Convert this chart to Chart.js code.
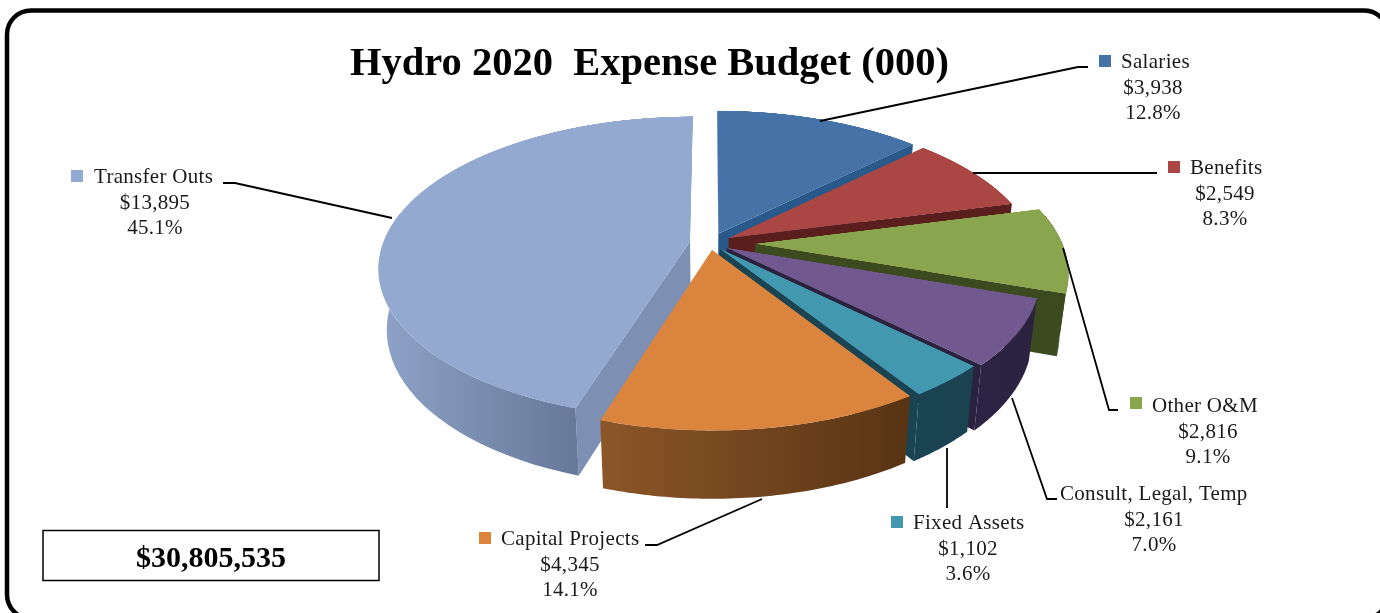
<!DOCTYPE html>
<html>
<head>
<meta charset="utf-8">
<script src="https://cdn.jsdelivr.net/npm/chart.js@4"></script>
<style>
  html, body { margin: 0; padding: 0; background: #fff; overflow: hidden; }
  #wrap { width: 1380px; height: 613px; }
</style>
</head>
<body>
<div id="wrap"><canvas id="pie" width="1380" height="613"></canvas></div>
<script>
const categories = ['Salaries', 'Benefits', 'Other O&M', 'Consult, Legal, Temp', 'Fixed Assets', 'Capital Projects', 'Transfer Outs'];
const budget = [3938, 2549, 2816, 2161, 1102, 4345, 13895];
const amountLabels = ['$3,938', '$2,549', '$2,816', '$2,161', '$1,102', '$4,345', '$13,895'];
const percentLabels = ['12.8%', '8.3%', '9.1%', '7.0%', '3.6%', '14.1%', '45.1%'];
const chartTitle = 'Hydro 2020  Expense Budget (000)';
const totalLabel = '$30,805,535';

const topColors = ['#4572A7', '#AA4643', '#89A54E', '#71588F', '#4198AF', '#DB843D', '#93A9CF'];
// wall gradient left -> right, and the flat colour of the cut faces
const wallLeft = ['#2a5a8a', '#5f2220', '#3f4e20', '#2d2344', '#1b4453', '#8c5628', '#8ea3c8'];
const wallRight = ['#2a5a8a', '#5f2220', '#3a481d', '#2b2240', '#1a4250', '#583414', '#67799a'];
const cutColors = ['#28598a', '#5a1f1c', '#3c4a1f', '#2b2240', '#1a4452', '#7a4a20', '#7d90b3'];
// how far each slice is pulled out of the pie, px on the flat chart
const sliceOffsets = [17.2, 17.2, 36.2, 15.5, 12.3, 11.6, 16.2];

// perspective of the pie plane: rows stay rows, only the width changes with depth
const PX = 710, PY = 243, A = 307, B = 147, K = 0.171;
const DEPTH = 60, BOTTOM_SHRINK = 0.025, SS = 2;

// [key x, key y, name x, centre x, first baseline]
const labelPos = [
  [1099, 55, 1121, 1153, 68],
  [1168, 161, 1190, 1225, 174],
  [1130, 397, 1152, 1208, 412],
  [null, null, 1060, 1154, 500],
  [891, 516, 913, 968, 529],
  [479, 532, 501, 570, 545],
  [71, 170, 94, 155, 183],
];
const leaders = [
  [[1088, 67], [1078, 67], [820, 121]],
  [[1157, 173], [973, 173]],
  [[1118, 410], [1109, 410], [1063, 248]],
  [[1057, 499], [1047, 499], [1012, 398]],
  [[947, 508], [947, 448]],
  [[645, 545], [657, 545], [762, 499]],
  [[223, 183], [235, 183], [392, 218]],
];
const LABEL_FONT = '21px "Liberation Serif"';

function project(u, v, z) {
  const w = 1 - K * v, s = 1 - z * BOTTOM_SHRINK;
  return [PX + A * u * s / w, PY + (B * v * s + DEPTH * z) / w];
}

// slice position in units of the pie radius
function sliceShape(arc, i) {
  const R = arc.outerRadius;
  const mid = (arc.startAngle + arc.endAngle) / 2;
  const dx = Math.cos(mid) * sliceOffsets[i], dy = Math.sin(mid) * sliceOffsets[i];
  return { dx, dy, ou: dx / R, ov: dy / R, a0: arc.startAngle, a1: arc.endAngle, mid };
}

function edgePoints(s, z, minSin = -2) {
  const pts = [], n = 60;
  for (let i = 0; i <= n; i++) {
    const a = s.a0 + (s.a1 - s.a0) * i / n;
    if (Math.sin(a) < minSin) continue;
    pts.push(project(s.ou + Math.cos(a), s.ov + Math.sin(a), z));
  }
  return pts;
}

function fillPoly(ctx, pts, style) {
  ctx.beginPath();
  pts.forEach((p, i) => i ? ctx.lineTo(p[0], p[1]) : ctx.moveTo(p[0], p[1]));
  ctx.closePath();
  ctx.fillStyle = style;
  ctx.fill();
}

function drawWalls(ctx, s, i) {
  const top = edgePoints(s, 0), bottom = edgePoints(s, 1);
  const a0 = project(s.ou, s.ov, 0), a1 = project(s.ou, s.ov, 1);
  // cut faces only where they turn towards the viewer
  if (-Math.cos(s.a0) > 0.02) fillPoly(ctx, [a0, top[0], bottom[0], a1], cutColors[i]);
  if (Math.cos(s.a1) > 0.02) fillPoly(ctx, [a0, top[top.length - 1], bottom[bottom.length - 1], a1], cutColors[i]);
  // the curved wall, front part only: the back of it never shows
  const wallTop = edgePoints(s, 0, -0.2), wallBottom = edgePoints(s, 1, -0.2);
  if (wallTop.length < 2) return;
  const xs = wallTop.map(p => p[0]);
  const g = ctx.createLinearGradient(Math.min(...xs), 0, Math.max(...xs), 0);
  g.addColorStop(0, wallLeft[i]);
  g.addColorStop(1, wallRight[i]);
  fillPoly(ctx, wallTop.concat(wallBottom.slice().reverse()), g);
}

// arc drawn flat by the library, then copied row by row onto the tilted plane
function drawTop(ctx, arc, s, flat) {
  const fc = flat.getContext('2d');
  fc.setTransform(1, 0, 0, 1, 0, 0);
  fc.clearRect(0, 0, flat.width, flat.height);
  fc.setTransform(SS, 0, 0, SS, s.dx * SS, s.dy * SS);
  arc.draw(fc);
  const pts = edgePoints(s, 0).concat([project(s.ou, s.ov, 0)]);
  const ys = pts.map(p => p[1]);
  const y0 = Math.floor(Math.min(...ys)) - 2, y1 = Math.ceil(Math.max(...ys)) + 2;
  const cx = arc.x * SS, cy = arc.y * SS, R = arc.outerRadius * SS;
  for (let y = y0; y < y1; y++) {
    const Y0 = y - PY, Y1 = y + 1 - PY;
    const v0 = Y0 / (B + K * Y0), v1 = Y1 / (B + K * Y1);
    const S = A / (1 - K * (v0 + v1) / 2);
    ctx.drawImage(flat, 0, cy + v0 * R, flat.width, (v1 - v0) * R,
      PX - cx / R * S, y, flat.width / R * S, 1);
  }
}

const pie3d = {
  id: 'pie3d',
  beforeDraw(chart) {
    const ctx = chart.ctx;
    ctx.save();
    ctx.fillStyle = '#fff';
    ctx.fillRect(0, 0, chart.width, chart.height);
    ctx.lineWidth = 4.5;
    ctx.strokeStyle = '#000';
    ctx.beginPath();
    ctx.roundRect(7, 10.5, 1381, 608, 24);
    ctx.stroke();
    ctx.restore();
  },
  beforeDatasetDraw(chart) {
    const ctx = chart.ctx;
    const arcs = chart.getDatasetMeta(0).data;
    const flat = document.createElement('canvas');
    flat.width = chart.width * SS;
    flat.height = chart.height * SS;
    // back to front
    const order = arcs.map((arc, i) => ({ arc, i, s: sliceShape(arc, i) }))
      .sort((a, b) => Math.sin(a.s.mid) - Math.sin(b.s.mid));
    ctx.save();
    order.forEach(({ arc, i, s }) => {
      drawWalls(ctx, s, i);
      drawTop(ctx, arc, s, flat);
    });
    ctx.restore();
    return false;
  },
  afterDraw(chart) {
    const ctx = chart.ctx;
    ctx.save();
    ctx.lineWidth = 1.8;
    ctx.strokeStyle = '#000';
    leaders.forEach(line => {
      ctx.beginPath();
      line.forEach((p, i) => i ? ctx.lineTo(p[0], p[1]) : ctx.moveTo(p[0], p[1]));
      ctx.stroke();
    });
    ctx.fillStyle = '#000';
    ctx.textAlign = 'left';
    ctx.font = 'bold 40.5px "Liberation Serif"';
    ctx.textBaseline = 'alphabetic';
    ctx.fillText(chartTitle, 350, 75);

    ctx.font = LABEL_FONT;
    ctx.letterSpacing = '0.3px';
    categories.forEach((name, i) => {
      const [kx, ky, nx, mx, by] = labelPos[i];
      if (kx !== null) {
        ctx.fillStyle = topColors[i];
        ctx.fillRect(kx, ky, 12, 12);
      }
      ctx.fillStyle = '#1a1a1a';
      ctx.textAlign = 'left';
      ctx.fillText(name, nx, by);
      ctx.textAlign = 'center';
      ctx.fillText(amountLabels[i], mx, by + 25.5);
      ctx.fillText(percentLabels[i], mx, by + 51);
    });
    ctx.letterSpacing = '0px';

    ctx.strokeStyle = '#000';
    ctx.lineWidth = 1.5;
    ctx.strokeRect(43, 530.5, 336, 50);
    ctx.fillStyle = '#000';
    ctx.textAlign = 'center';
    ctx.font = 'bold 30px "Liberation Serif"';
    ctx.fillText(totalLabel, 211, 567);
    ctx.restore();
  },
};

new Chart(document.getElementById('pie'), {
  type: 'pie',
  data: {
    labels: categories,
    datasets: [{ data: budget, backgroundColor: topColors, borderWidth: 0 }],
  },
  options: {
    responsive: false,
    animation: false,
    layout: { padding: 60 },
    plugins: { legend: { display: false }, tooltip: { enabled: false } },
  },
  plugins: [pie3d],
});
</script>
</body>
</html>
